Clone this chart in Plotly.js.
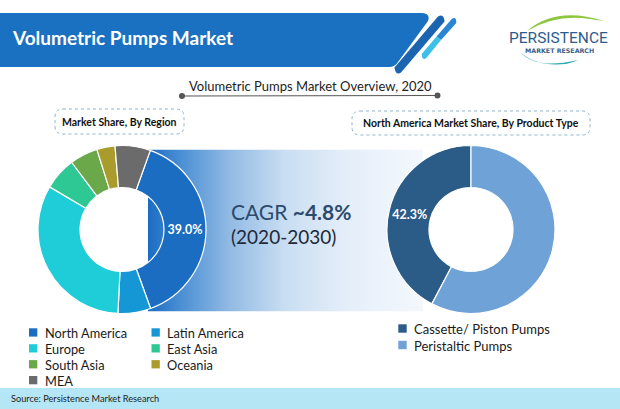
<!DOCTYPE html>
<html><head><meta charset="utf-8">
<script src="https://cdn.plot.ly/plotly-3.0.1.min.js"></script>
<style>html,body{margin:0;padding:0;background:#fff}#chart{width:620px;height:409px}</style>
</head><body><div id="chart"></div>
<script>
// ---- data ----
const chartTitle = 'Volumetric Pumps Market';
const overviewTitle = 'Volumetric Pumps Market Overview, 2020';
const regionTitle = 'Market Share, By Region';
const productTitle = 'North America Market Share, By Product Type';
const regionLabels = ['North America','Latin America','Europe','East Asia','South Asia','Oceania','MEA'];
const regionShares = [39.0, 6.3, 32.7, 6.3, 5.4, 3.5, 6.8];
const regionColors = ['#1b6dc1','#1697d5','#1fcdd8','#2ec894','#6aa84a','#a99c2c','#6b6b6b'];
const legendOrder = ['North America','Latin America','Europe','East Asia','South Asia','Oceania','MEA'];
const productLabels = ['Cassette/ Piston Pumps','Peristaltic Pumps'];
const productShares = [42.3, 57.7];
const productColors = ['#2b5b87','#6fa3d8'];
const cagrValue = '~4.8%';
const cagrPeriod = '(2020-2030)';
const sourceText = 'Source: Persistence Market Research';

// ---- helpers (pixel -> paper) ----
const W = 620, H = 409;
const X = p => p / W, Y = p => 1 - p / H;
function P(cmds){
  let out = [], k = 0;
  for (const c of cmds){
    if (typeof c === 'string'){ out.push(c); k = 0; }
    else { out.push((k % 2 === 0 ? X(c) : Y(c)).toFixed(5)); k++; }
  }
  return out.join(' ');
}
function rrect(x0,y0,x1,y1,r){
  return P(['M',x0+r,y0,'L',x1-r,y0,'Q',x1,y0,x1,y0+r,'L',x1,y1-r,'Q',x1,y1,x1-r,y1,
            'L',x0+r,y1,'Q',x0,y1,x0,y1-r,'L',x0,y0+r,'Q',x0,y0,x0+r,y0,'Z']);
}
const FONT = 'Lato, "Open Sans", sans-serif';

const shapes = [];
const ann = [];
function pathShape(path, fill, line, lw, dash){
  shapes.push({type:'path', xref:'paper', yref:'paper', path:path,
    fillcolor: fill || 'rgba(0,0,0,0)', line:{color: line || 'rgba(0,0,0,0)', width: lw || 0, dash: dash || 'solid'}});
}
function rectShape(x0,y0,x1,y1,fill){
  shapes.push({type:'rect', xref:'paper', yref:'paper', x0:X(x0), x1:X(x1), y0:Y(y1), y1:Y(y0),
    fillcolor:fill, line:{width:0}});
}
function text(t, x, y, size, color, opts){
  ann.push(Object.assign({text:t, xref:'paper', yref:'paper', x:X(x), y:Y(y), showarrow:false,
    xanchor:'left', yanchor:'middle', font:{family:FONT, size:size, color:color}}, opts||{}));
}

// header banner
pathShape(P(['M',0,13,'L',421,13,'Q',431,13,428,21,'L',398,62,'Q',395,67,389,67,'L',0,67,'Z']), '#1a70c1');
pathShape(P(['M',438,16.4,'Q',444,13,444.5,21.6,'L',401,72.6,'Q',395.5,76,394.5,67.4,'Z']), '#1b64b0');
pathShape(P(['M',451.7,19,'Q',456.5,16,456.3,23,'L',441,40,'L',436.6,36.5,'Z']), '#2a86d4');
pathShape(P(['M',436.6,36.5,'L',441,40,'L',426.3,58,'Q',422,61,421.7,54,'Z']), '#3cbfe8');
text('<b>'+chartTitle+'</b>', 10, 38, 19, '#ffffff');

// logo
pathShape(P(['M',527,31,'Q',556,6,604,21,'Q',596,20,590,19,'Q',556,14,527,31,'Z']), '#8dc63f');
pathShape(P(['M',520,52,'Q',536,70,578,60,'Q',572,63,566,64,'Q',536,67,520,52,'Z']), '#2ba6b4');
text('PERSISTENCE', 558.5, 38, 15, '#2c5d8f', {xanchor:'center', font:{family:'Roboto, sans-serif', size:15.5, color:'#2c5d8f'}});
text('<b>MARKET RESEARCH</b>', 559, 50.5, 6.2, '#3a5f88', {xanchor:'center', font:{family:'"DejaVu Sans", sans-serif', size:6.3, color:'#3a5f88'}});

// overview subtitle with line
text(overviewTitle, 310, 86, 13, '#222222', {xanchor:'center'});
pathShape(P(['M',182,96,'L',437,95.5]), null, '#555555', 1);
shapes.push({type:'circle', xref:'paper', yref:'paper', x0:X(179), x1:X(185), y0:Y(99), y1:Y(93), fillcolor:'#555', line:{width:0}});
shapes.push({type:'circle', xref:'paper', yref:'paper', x0:X(434.5), x1:X(440.5), y0:Y(98.5), y1:Y(92.5), fillcolor:'#555', line:{width:0}});

// dashed boxes
pathShape(rrect(55,109,184,134,8), '#ffffff', '#8fb3cf', 1, 'dot');
text('<b>'+regionTitle+'</b>', 119.5, 121.5, 10.5, '#111111', {xanchor:'center'});
pathShape(rrect(352,111,590,135,8), '#ffffff', '#8fb3cf', 1, 'dot');
text('<b>'+productTitle+'</b>', 471, 123, 10.5, '#111111', {xanchor:'center'});

// CAGR text
text('CAGR <b>'+cagrValue+'</b>', 229, 211, 21, '#2b4a6e');
text(cagrPeriod, 229, 237, 19, '#1e2a3a');

// left legend (2 columns, row-major)
legendOrder.forEach((lab, i) => {
  const col = i % 2, row = Math.floor(i / 2);
  const sx = col === 0 ? 29 : 151.5, ty = 332.3 + row * 15.9;
  const c = regionColors[regionLabels.indexOf(lab)];
  rectShape(sx, ty - 4, sx + 8.3, ty + 4.3, c);
  text(lab, sx + 13.5, ty + 0.5, 12.8, '#1a1a1a');
});
// right legend
productLabels.forEach((lab, i) => {
  const ty = 328.5 + i * 16.5;
  rectShape(398.3, ty - 4.2, 406.7, ty + 4.2, productColors[i]);
  text(lab, 411.5, ty + 0.5, 13, '#1a1a1a');
});

// source band
rectShape(0, 388, 620, 409, '#b4e6f6');
text(sourceText, 9, 398.5, 9.2, '#222222');

// gradient band behind CAGR
const gsvg = '<svg xmlns="http://www.w3.org/2000/svg" width="280" height="162" preserveAspectRatio="none" viewBox="0 0 280 162">' +
 '<defs><linearGradient id="g" x1="0" x2="1" y1="0" y2="0">' +
 '<stop offset="0" stop-color="#1a6cc2"/><stop offset="0.12" stop-color="#4b8fd4"/>' +
 '<stop offset="0.3" stop-color="#93bbe4"/><stop offset="0.5" stop-color="#c9def2"/>' +
 '<stop offset="0.72" stop-color="#e4eef9"/><stop offset="1" stop-color="#f4f8fd"/>' +
 '</linearGradient></defs><rect x="0" y="0" width="280" height="162" fill="url(#g)"/></svg>';
const images = [{source:'data:image/svg+xml;charset=utf-8,' + encodeURIComponent(gsvg),
  xref:'paper', yref:'paper', x:X(148), y:Y(149.5), sizex:X(423)-X(148), sizey:(311.5-149.5)/H,
  sizing:'stretch', xanchor:'left', yanchor:'top', layer:'below'}];

const traces = [
  {type:'pie', labels:regionLabels, values:regionShares, sort:false, direction:'clockwise',
   rotation:19.7, hole:0.5,
   domain:{x:[X(38), X(206)], y:[Y(313.5), Y(145.5)]},
   marker:{colors:regionColors, line:{color:'#ffffff', width:1.2}},
   text:regionShares.map((v,i)=> i===0 ? v.toFixed(1)+'%' : ''),
   textinfo:'text', textposition:'inside', insidetextorientation:'horizontal',
   textfont:{family:FONT, size:12.5, color:'#ffffff', weight:'bold'},
   hoverinfo:'label+percent', showlegend:false},
  {type:'pie', labels:productLabels, values:productShares, sort:false, direction:'clockwise',
   rotation:360 - productShares[0] * 3.6, hole:0.5,
   domain:{x:[X(387), X(555)], y:[Y(313.5), Y(145.5)]},
   marker:{colors:productColors, line:{color:'#ffffff', width:1.2}},
   text:productShares.map((v,i)=> i===0 ? v.toFixed(1)+'%' : ''),
   textinfo:'text', textposition:'inside', insidetextorientation:'horizontal',
   textfont:{family:FONT, size:12.5, color:'#ffffff', weight:'bold'},
   hoverinfo:'label+percent', showlegend:false}
];

const layout = {
  width:W, height:H, margin:{l:0,r:0,t:0,b:0},
  paper_bgcolor:'#ffffff', plot_bgcolor:'#ffffff',
  showlegend:false, shapes:shapes, annotations:ann, images:images,
  font:{family:FONT}
};
Plotly.newPlot('chart', traces, layout, {displayModeBar:false, staticPlot:true});
</script></body></html>
